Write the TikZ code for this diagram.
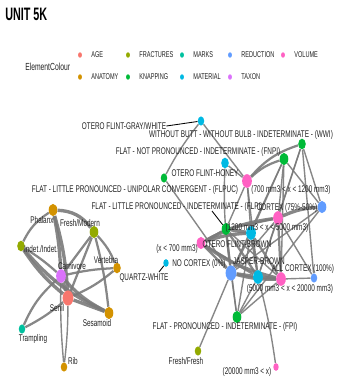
\documentclass[tikz,border=0pt]{standalone}
\usepackage{fontspec}
\setmainfont{Liberation Sans}
\newfontfamily\narrowsf[FakeStretch=0.66]{Liberation Sans}
\newfontfamily\titlesf[FakeStretch=0.6]{Liberation Sans}
\usepackage{tikz}
\usetikzlibrary{positioning,shapes.geometric,backgrounds}

\definecolor{age}{HTML}{F8766D}
\definecolor{anatomy}{HTML}{D39200}
\definecolor{fractures}{HTML}{93AA00}
\definecolor{knapping}{HTML}{00BA38}
\definecolor{marks}{HTML}{00C19F}
\definecolor{material}{HTML}{00B9E3}
\definecolor{reduction}{HTML}{619CFF}
\definecolor{taxon}{HTML}{DB72FB}
\definecolor{volume}{HTML}{FF61C3}
\definecolor{linkgray}{HTML}{7A7A7A}
\definecolor{labgray}{HTML}{222222}

\begin{document}
\begin{tikzpicture}[x=0.025cm, y=-0.025cm,
  every node/.style={font=\narrowsf\fontsize{6.9}{7}\selectfont, inner sep=0pt, text=labgray},
  vtx/.style={ellipse, minimum width=#1*0.027cm, minimum height=#1*0.038cm},
  key/.style={font=\narrowsf\fontsize{6}{7}\selectfont},
  link/.style={draw=linkgray, draw opacity=0.9, line width=#1},
  link/.default=1pt,
  lead/.style={draw=black, line width=0.6pt}]
  \useasboundingbox (0,0) rectangle (346,383);

  % title and legend
  \node[font=\titlesf\bfseries\fontsize{12.8}{14}\selectfont, anchor=west, text=black] (title) at (5,14) {UNIT 5K};
  \node[font=\narrowsf\fontsize{7.3}{8}\selectfont, anchor=west] (legt) at (25,67) {ElementColour};
  \foreach \c/\t/\x/\y in {age/AGE/80/55, fractures/FRACTURES/128/55, marks/MARKS/182/55,
      reduction/REDUCTION/230/55, volume/VOLUME/283/55, anatomy/ANATOMY/80/77,
      knapping/KNAPPING/128/77, material/MATERIAL/182/77, taxon/TAXON/230/77} {
    \node[vtx=3.6, fill=\c] (k-\c) at (\x,\y) {};
    \node[key, right=6.3pt of k-\c] (kt-\c) {\t};
  }

  % left cluster
  \node[vtx=8, fill=anatomy] (phal) at (53,210) {};
  \node[vtx=8, fill=fractures] (fmod) at (94,232) {};
  \node[vtx=7, fill=fractures] (indt) at (21,246) {};
  \node[vtx=9, fill=taxon] (carn) at (61,276) {};
  \node[vtx=7, fill=anatomy] (vert) at (117,268) {};
  \node[vtx=10, fill=age] (senil) at (68,298) {};
  \node[vtx=8, fill=anatomy] (sesa) at (109,313) {};
  \node[vtx=6, fill=marks] (tramp) at (22,329) {};
  \node[vtx=6, fill=anatomy] (rib) at (64,367) {};

  % right cluster
  \node[vtx=6, fill=material] (gw) at (201,121) {};
  \node[vtx=7, fill=knapping] (wwi) at (302,144) {};
  \node[vtx=8, fill=knapping] (fnpi) at (284,159) {};
  \node[vtx=7, fill=material] (honey) at (225,163) {};
  \node[vtx=6, fill=knapping] (flpuc) at (164,178) {};
  \node[vtx=9, fill=volume] (v700) at (247,181) {};
  \node[vtx=8, fill=reduction] (c75) at (322,207) {};
  \node[vtx=9, fill=volume] (v1200) at (278,218) {};
  \node[vtx=8, fill=knapping] (flpi) at (226,229) {};
  \node[vtx=9, fill=material] (brown) at (251,233) {};
  \node[vtx=8, fill=volume] (vlow) at (201,243) {};
  \node[vtx=5, fill=material] (qw) at (166,263) {};
  \node[vtx=10, fill=reduction] (noc) at (231,273) {};
  \node[vtx=9, fill=material] (jasp) at (258,277) {};
  \node[vtx=9, fill=volume] (v5000) at (281,279) {};
  \node[vtx=6, fill=reduction] (allc) at (314,278) {};
  \node[vtx=8, fill=knapping] (fpi) at (237,317) {};
  \node[vtx=6, fill=fractures] (ffr) at (198,351) {};
  \node[vtx=5, fill=volume] (v20000) at (276,367) {};

  % labels
  \node (phal-l) at (42,220) {Phalanx};
  \node (fmod-l) at (80,223) {Fresh/Modern};
  \node (indt-l) at (41,249) {Indet./Indet.};
  \node (carn-l) at (72,266) {Carnivore};
  \node (vert-l) at (106,260) {Vertebra};
  \node (senil-l) at (57,308) {Senil};
  \node (sesa-l) at (97,323) {Sesamoid};
  \node (tramp-l) at (33,339) {Trampling};
  \node (rib-l) at (73,361) {Rib};
  \node (gw-l) at (124,126) {OTERO FLINT-GRAY/WHITE};
  \node (wwi-l) at (241,135) {WITHOUT BUTT - WITHOUT BULB - INDETERMINATE - (WWI)};
  \node (fnpi-l) at (198,152) {FLAT - NOT PRONOUNCED - INDETERMINATE - (FNPI)};
  \node (honey-l) at (205,173) {OTERO FLINT-HONEY};
  \node (flpuc-l) at (135,190) {FLAT - LITTLE PRONOUNCED - UNIPOLAR CONVERGENT - (FLPUC)};
  \node (v700-l) at (291,190) {(700 mm3 < x < 1200 mm3)};
  \node (flpi-l) at (177,207) {FLAT - LITTLE PRONOUNCED - INDETERMINATE - (FLPI)};
  \node (c75-l) at (287,208) {CORTEX (75\%-50\%)};
  \node (v1200-l) at (267,228) {(1200 mm3 < x < 5000 mm3)};
  \node (brown-l) at (237,244) {OTERO FLINT-BROWN};
  \node (vlow-l) at (177,249) {(x < 700 mm3)};
  \node (qw-l) at (144,278) {QUARTZ-WHITE};
  \node (noc-l) at (199,264) {NO CORTEX (0\%)};
  \node (jasp-l) at (259,261) {JASPER-BROWN};
  \node (allc-l) at (303,269) {ALL CORTEX (100\%)};
  \node (v5000-l) at (290,289) {(5000 mm3 < x < 20000 mm3)};
  \node (fpi-l) at (225,327) {FLAT - PRONOUNCED - INDETERMINATE - (FPI)};
  \node (ffr-l) at (186,361) {Fresh/Fresh};
  \node (v20000-l) at (247,372) {(20000 mm3 < x)};
  \coordinate (flpi-x) at (212,211);
  \coordinate (qw-x) at (159,272);

  \begin{scope}[on background layer]
    % left cluster links
    \draw[link=2.4pt] (phal) to[bend left=25] (fmod);
    \draw[link=1.6pt] (phal) to[bend right=15] (indt);
    \draw[link=2.4pt] (phal) to[bend left=4] (carn);
    \draw[link=2.4pt] (phal) to[bend left=6] (senil);
    \draw[link=1.6pt] (fmod) -- (carn);
    \draw[link=1.6pt] (fmod) -- (senil);
    \draw[link=1.6pt] (fmod) to[bend left=10] (vert);
    \draw[link=1.6pt] (fmod) to[bend left=4] (sesa);
    \draw[link=1.6pt] (indt) to[bend left=5] (carn);
    \draw[link=2.4pt] (indt) to[bend right=8] (senil);
    \draw[link=2.4pt] (indt) to[bend right=12] (sesa);
    \draw[link=1.6pt] (carn) to[bend left=5] (vert);
    \draw[link=1.6pt] (senil) to[bend right=8] (vert);
    \draw[link=2.4pt] (carn) to[bend right=10] (sesa);
    \draw[link=2.4pt] (senil) -- (sesa);
    \draw[link=1.6pt] (carn) to[bend right=12] (tramp);
    \draw[link=1.6pt] (senil) to[bend left=6] (tramp);
    \draw[link] (carn) to[bend right=3] (rib);
    \draw[link] (senil) to[bend left=3] (rib);
    \draw[link=2.4pt] (carn) -- (senil);
    % right cluster links
    \draw[link] (gw) to[bend right=5] (flpuc);
    \draw[link] (gw) -- (v700);
    \draw[link] (honey) -- (v700);
    \draw[link] (honey) to[bend right=5] (noc);
    \draw[link] (flpuc) -- (noc);
    \draw[link=1.6pt] (v700) to[bend left=12] (fnpi);
    \draw[link=1.6pt] (v700) to[bend left=15] (wwi);
    \draw[link] (v700) -- (brown);
    \draw[link] (v700) -- (jasp);
    \draw[link] (v700) -- (flpi);
    \draw[link] (wwi) -- (c75);
    \draw[link] (wwi) -- (v1200);
    \draw[link] (wwi) -- (allc);
    \draw[link] (wwi) -- (jasp);
    \draw[link] (fnpi) -- (c75);
    \draw[link] (fnpi) -- (v1200);
    \draw[link] (fnpi) -- (noc);
    \draw[link] (fnpi) -- (v5000);
    \draw[link] (fnpi) -- (brown);
    \draw[link=2.4pt] (v1200) to[bend left=10] (c75);
    \draw[link] (c75) -- (noc);
    \draw[link] (c75) -- (fpi);
    \draw[link=1.6pt] (v1200) -- (flpi);
    \draw[link=2.4pt] (v1200) to[bend right=10] (vlow);
    \draw[link] (v1200) -- (jasp);
    \draw[link=1.6pt] (v1200) -- (v5000);
    \draw[link] (v1200) -- (noc);
    \draw[link=2.4pt] (flpi) -- (brown);
    \draw[link=1.6pt] (flpi) -- (vlow);
    \draw[link=1.6pt] (flpi) -- (noc);
    \draw[link=1.6pt] (flpi) -- (jasp);
    \draw[link] (flpi) -- (v5000);
    \draw[link] (flpi) -- (fpi);
    \draw[link=1.6pt] (brown) -- (noc);
    \draw[link=1.6pt] (brown) -- (jasp);
    \draw[link=1.6pt] (brown) -- (v5000);
    \draw[link=2.4pt] (brown) to[bend right=8] (vlow);
    \draw[link] (brown) -- (fpi);
    \draw[link=1.6pt] (vlow) -- (noc);
    \draw[link=1.6pt] (vlow) -- (jasp);
    \draw[link=2.4pt] (vlow) to[bend right=10] (v5000);
    \draw[link=2.4pt] (noc) -- (jasp);
    \draw[link=2.4pt] (noc) to[bend right=8] (v5000);
    \draw[link] (noc) -- (fpi);
    \draw[link] (noc) -- (ffr);
    \draw[link=2.4pt] (jasp) -- (v5000);
    \draw[link] (jasp) -- (fpi);
    \draw[link] (jasp) to[bend left=3] (v20000);
    \draw[link] (v5000) -- (allc);
    \draw[link] (v5000) -- (fpi);
    \draw[link] (allc) -- (v1200);
  \end{scope}

  % label leaders
  \draw[lead] (gw-l.east) -- (gw);
  \draw[lead] (flpi-x) -- (flpi);
  \draw[lead] (qw-x) -- (qw);
\end{tikzpicture}
\end{document}
